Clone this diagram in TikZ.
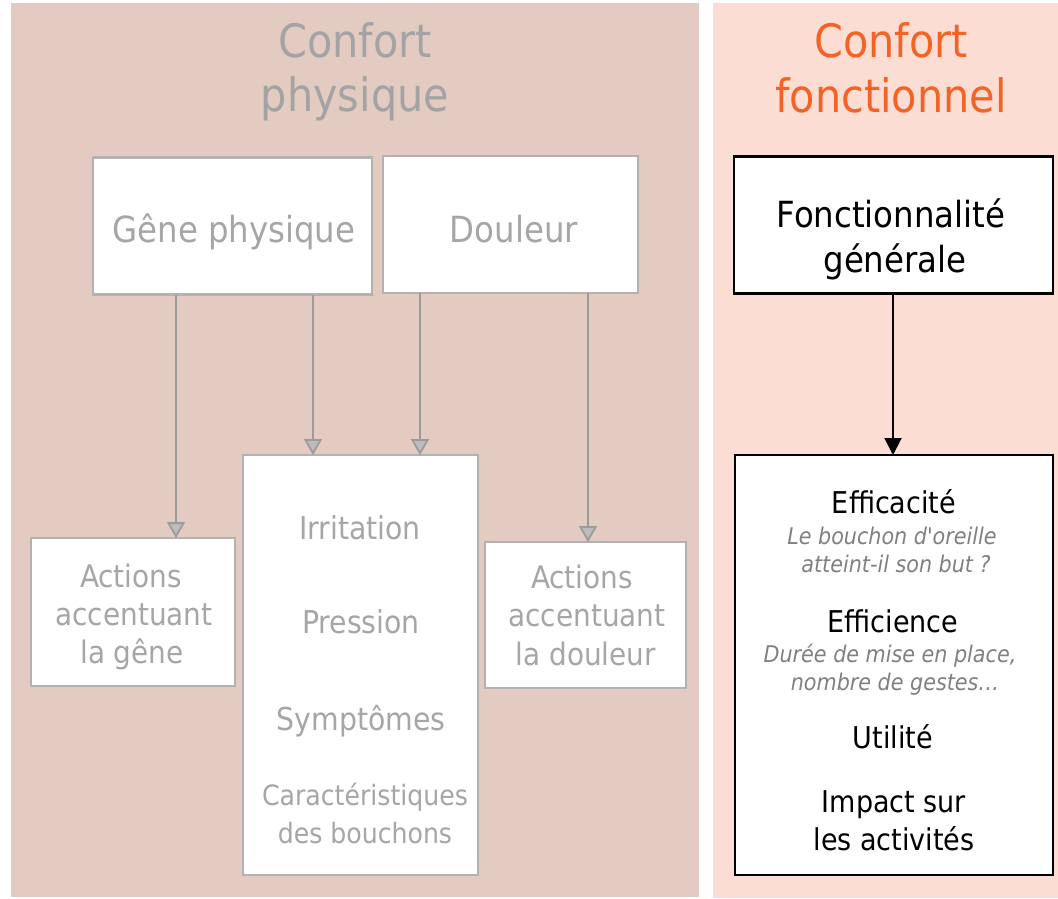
\documentclass[tikz,border=0pt]{standalone}
\usepackage{fontspec}
\setmainfont{DejaVu Sans Condensed}[Ligatures=TeXOff]
\usetikzlibrary{arrows.meta}
\definecolor{leftbg}{RGB}{227,203,193}
\definecolor{rightbg}{RGB}{252,221,211}
\definecolor{titlegray}{RGB}{163,163,163}
\definecolor{orangetitle}{RGB}{243,99,37}
\definecolor{boxgray}{RGB}{178,178,178}
\definecolor{linegray}{RGB}{155,155,155}
\definecolor{tipgray}{RGB}{188,188,188}
\definecolor{txtgray}{RGB}{166,166,166}
\definecolor{itgray}{RGB}{128,128,128}
\begin{document}
\begin{tikzpicture}[x=1pt,y=-1pt,
  gbox/.style={draw=boxgray, line width=2.5pt, fill=white, inner sep=0pt, outer sep=0pt},
  kbox/.style={draw=black, line width=2.5pt, fill=white, inner sep=0pt, outer sep=0pt},
  ttlgray/.style={anchor=base, inner sep=0pt, text=titlegray, font=\fontsize{46}{50}\selectfont},
  ttlorange/.style={anchor=base, inner sep=0pt, text=orangetitle, font=\fontsize{46}{50}\selectfont},
  biggray/.style={anchor=base, inner sep=0pt, text=txtgray, font=\fontsize{36}{40}\selectfont},
  midgray/.style={anchor=base, inner sep=0pt, text=txtgray, font=\fontsize{31}{35}\selectfont},
  listgray/.style={anchor=base, inner sep=0pt, text=txtgray, font=\fontsize{31.5}{35}\selectfont},
  smallgray/.style={anchor=base, inner sep=0pt, text=txtgray, font=\fontsize{28}{32}\selectfont},
  bigblack/.style={anchor=base, inner sep=0pt, text=black, font=\fontsize{36}{40}\selectfont},
  midblack/.style={anchor=base, inner sep=0pt, text=black, font=\fontsize{30}{34}\selectfont},
  ittxt/.style={anchor=base, inner sep=0pt, text=itgray, font=\fontsize{23}{27}\selectfont\itshape},
  garrow/.style={draw=linegray, line width=1.8pt, -{Triangle[width=18pt,length=16pt,fill=tipgray]}},
  karrow/.style={draw=black, line width=2pt, -{Triangle[width=17pt,length=17pt]}}
]
\useasboundingbox (0,0) rectangle (1058,898);
\fill[white] (0,0) rectangle (1058,898);
% panels
\fill[leftbg] (11,3) rectangle (699,897);
\fill[rightbg] (713,3) rectangle (1058,898);

% titles
\node[ttlgray] (tl1) at (355,57) {Confort};
\node[ttlgray] (tl2) at (355,111) {physique};
\node[ttlorange] (tr1) at (891,57) {Confort};
\node[ttlorange] (tr2) at (891,112) {fonctionnel};

% left boxes
\node[gbox, minimum width=279pt, minimum height=137pt] (gp) at (232.5,226) {};
\node[biggray] (gpt) at (234,242) {Gêne physique};
\node[gbox, minimum width=255pt, minimum height=137pt] (dl) at (510.5,224.5) {};
\node[biggray] (dlt) at (514,242) {Douleur};

\node[gbox, minimum width=204pt, minimum height=148pt] (ag) at (133,612) {};
\node[midgray] (ag1) at (131,587) {Actions};
\node[midgray] (ag2) at (134,625) {accentuant};
\node[midgray] (ag3) at (132,663) {la gêne};

\node[gbox, minimum width=235pt, minimum height=420pt] (mid) at (360.5,665) {};
\node[listgray] (m1) at (360,539) {Irritation};
\node[listgray] (m2) at (361,633) {Pression};
\node[listgray] (m3) at (361,730) {Symptômes};
\node[smallgray] (m4) at (365,805) {Caractéristiques};
\node[smallgray] (m5) at (365,843) {des bouchons};

\node[gbox, minimum width=201pt, minimum height=146pt] (ad) at (585.5,615) {};
\node[midgray] (ad1) at (582,588) {Actions};
\node[midgray] (ad2) at (587,626) {accentuant};
\node[midgray] (ad3) at (586,665) {la douleur};

% right boxes
\node[kbox, minimum width=319pt, minimum height=137pt] (fg) at (893.5,225) {};
\node[bigblack] (fg1) at (891,227) {Fonctionnalité};
\node[bigblack] (fg2) at (895,272) {générale};

\node[kbox, minimum width=318pt, minimum height=420pt] (rb) at (894,665) {};
\node[midblack] (r1) at (894,513) {Efficacité};
\node[ittxt] (r2) at (892,544) {Le bouchon d'oreille};
\node[ittxt] (r3) at (896,572) {atteint-il son but ?};
\node[midblack] (r4) at (893,632) {Efficience};
\node[ittxt] (r5) at (890,662) {Durée de mise en place,};
\node[ittxt] (r6) at (895,690) {nombre de gestes…};
\node[midblack] (r7) at (893,748) {Utilité};
\node[midblack] (r8) at (894,812) {Impact sur};
\node[midblack] (r9) at (894,850) {les activités};

% arrow columns
\coordinate (c1) at (176,0);
\coordinate (c2) at (313,0);
\coordinate (c3) at (420,0);
\coordinate (c4) at (588,0);
\coordinate (c5) at (893,0);

\draw[garrow] (gp.south -| c1) -- (ag.north -| c1);
\draw[garrow] (gp.south -| c2) -- (mid.north -| c2);
\draw[garrow] (dl.south -| c3) -- (mid.north -| c3);
\draw[garrow] (dl.south -| c4) -- (ad.north -| c4);
\draw[karrow] (fg.south -| c5) -- (rb.north -| c5);
\end{tikzpicture}
\end{document}
